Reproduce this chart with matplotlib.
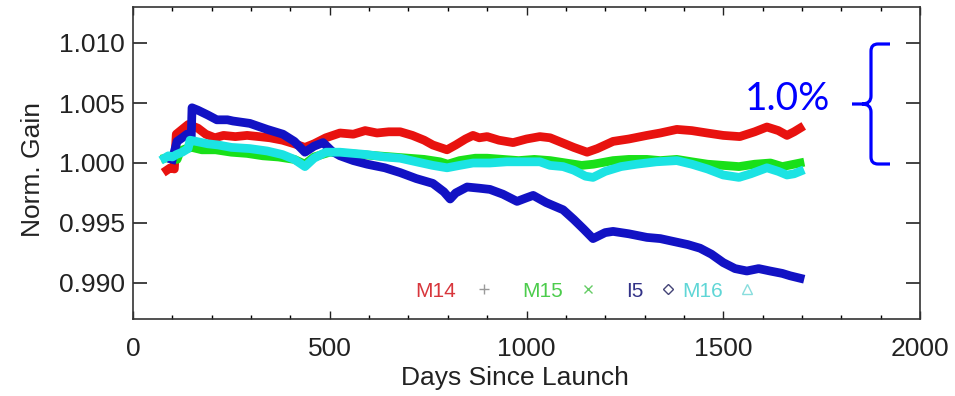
import matplotlib
matplotlib.use("Agg")
import matplotlib.pyplot as plt
from matplotlib.path import Path
from matplotlib.patches import PathPatch

# ---------------- data ----------------
m14_days = [86, 95, 105, 110, 125, 140, 150, 165, 185, 208, 230, 260, 290, 320, 348, 380, 410, 437,
            460, 490, 526, 560, 590, 620, 650, 679, 710, 740, 762, 780, 798, 820, 845, 864, 880, 900,
            930, 966, 1000, 1034, 1060, 1090, 1120, 1154, 1180, 1220, 1260, 1306, 1340, 1382, 1420,
            1459, 1500, 1542, 1580, 1611, 1640, 1662, 1680, 1695]
m14_gain = [0.9994, 0.9996, 0.9995, 1.0024, 1.0028, 1.0032, 1.0031, 1.0029, 1.0024, 1.0021, 1.0023,
            1.0022, 1.0023, 1.0022, 1.0021, 1.0019, 1.0016, 1.0013, 1.0016, 1.0021, 1.0025, 1.0024,
            1.0027, 1.0025, 1.0026, 1.0026, 1.0023, 1.0019, 1.0015, 1.0013, 1.0011, 1.0015, 1.0020,
            1.0023, 1.0021, 1.0022, 1.0019, 1.0017, 1.0020, 1.0022, 1.0021, 1.0017, 1.0013, 1.0009,
            1.0012, 1.0018, 1.0020, 1.0023, 1.0025, 1.0028, 1.0027, 1.0025, 1.0023, 1.0022, 1.0026,
            1.0030, 1.0027, 1.0023, 1.0026, 1.0029]

m15_days = [82, 95, 105, 112, 120, 135, 150, 175, 210, 250, 290, 330, 370, 410, 437, 460, 500, 540,
            580, 620, 660, 700, 740, 780, 800, 830, 870, 900, 940, 980, 1020, 1060, 1100, 1140, 1170,
            1220, 1260, 1306, 1340, 1382, 1420, 1460, 1500, 1540, 1580, 1620, 1650, 1680, 1695]
m15_gain = [1.0004, 1.0005, 1.0006, 1.0003, 1.0010, 1.0012, 1.0013, 1.0011, 1.0011, 1.0009, 1.0008,
            1.0006, 1.0005, 1.0003, 0.9999, 1.0005, 1.0009, 1.0008, 1.0007, 1.0006, 1.0005, 1.0004,
            1.0003, 1.0001, 0.9999, 1.0002, 1.0004, 1.0004, 1.0003, 1.0002, 1.0003, 1.0002, 1.0000,
            0.9998, 0.9999, 1.0002, 1.0003, 1.0003, 1.0002, 1.0003, 1.0001, 0.9999, 0.9998, 0.9997,
            0.9999, 1.0000, 0.9997, 0.9999, 1.0000]

m16_days = [80, 90, 100, 110, 125, 140, 145, 160, 190, 217, 250, 297, 341, 380, 410, 437, 460, 490,
            526, 560, 595, 640, 679, 720, 762, 798, 830, 864, 907, 950, 1000, 1034, 1060, 1093, 1120,
            1150, 1169, 1200, 1240, 1280, 1330, 1382, 1420, 1460, 1500, 1540, 1570, 1611, 1640, 1662,
            1680, 1695]
m16_gain = [1.0004, 1.0006, 1.0005, 1.0007, 1.0009, 1.0012, 1.0019, 1.0018, 1.0016, 1.0015, 1.0013,
            1.0012, 1.0010, 1.0007, 1.0003, 0.9997, 1.0004, 1.0009, 1.0009, 1.0008, 1.0007, 1.0005,
            1.0004, 1.0001, 0.9998, 0.9996, 0.9998, 1.0000, 1.0000, 1.0001, 1.0001, 1.0001, 0.9998,
            0.9997, 0.9994, 0.9989, 0.9988, 0.9993, 0.9997, 0.9999, 1.0001, 1.0002, 0.9999, 0.9995,
            0.9990, 0.9988, 0.9991, 0.9996, 0.9993, 0.9990, 0.9991, 0.9993]

i5_days = [100, 112, 125, 137, 148, 150, 165, 190, 213, 240, 254, 297, 341, 381, 410, 437, 460, 483,
           505, 526, 560, 595, 640, 679, 720, 762, 790, 806, 820, 849, 880, 907, 940, 976, 1000, 1017,
           1050, 1093, 1120, 1145, 1169, 1200, 1220, 1260, 1306, 1340, 1382, 1410, 1441, 1470, 1500,
           1530, 1560, 1590, 1619, 1650, 1670, 1695]
i5_gain = [1.0003, 1.0018, 1.0021, 1.0024, 1.0022, 1.0046, 1.0044, 1.0040, 1.0036, 1.0036, 1.0035,
           1.0033, 1.0028, 1.0024, 1.0018, 1.0009, 1.0014, 1.0017, 1.0010, 1.0006, 1.0002, 0.9999,
           0.9996, 0.9992, 0.9987, 0.9983, 0.9976, 0.9970, 0.9975, 0.9980, 0.9979, 0.9978, 0.9974,
           0.9968, 0.9971, 0.9973, 0.9967, 0.9961, 0.9953, 0.9945, 0.9937, 0.9942, 0.9943, 0.9941,
           0.9938, 0.9937, 0.9934, 0.9932, 0.9929, 0.9924, 0.9917, 0.9912, 0.9910, 0.9912, 0.9910,
           0.9908, 0.9906, 0.9904]

x_ticks = [0, 500, 1000, 1500, 2000]
y_ticks = [0.990, 0.995, 1.000, 1.005, 1.010]
y_tick_labels = ["0.990", "0.995", "1.000", "1.005", "1.010"]

legend_labels = ["M14", "M15", "I5", "M16"]
annotation_text = "1.0%"

# ---------------- figure ----------------
W, H = 955, 396
fig = plt.figure(figsize=(W / 100, H / 100), dpi=100)
plt.rcParams['font.family'] = ['Liberation Sans', 'DejaVu Sans']

ax = fig.add_axes([133 / W, 1 - 319 / H, (920 - 133) / W, (319 - 7) / H])

col_red = '#e8120f'
col_green = '#19e019'
col_cyan = '#1be3e3'
col_blue = '#1212c4'

lw = 6.3
ax.plot(m14_days, m14_gain, color=col_red, lw=lw, solid_joinstyle='round', zorder=2)
ax.plot(m15_days, m15_gain, color=col_green, lw=lw, solid_joinstyle='round', zorder=3)
ax.plot(i5_days, i5_gain, color=col_blue, lw=lw, solid_joinstyle='round', zorder=4)
ax.plot(m16_days, m16_gain, color=col_cyan, lw=lw, solid_joinstyle='round', zorder=5)

ax.set_xlim(0, 2000)
ax.set_ylim(0.987, 1.013)
ax.set_xticks(x_ticks)
ax.set_xticks(range(0, 2001, 100), minor=True)
ax.set_yticks(y_ticks)
ax.set_yticklabels(y_tick_labels)

txt_col = '#222222'
ax.tick_params(axis='x', which='major', direction='in', length=6, width=1.0, top=True,
               labelsize=19, pad=13, colors=txt_col)
ax.tick_params(axis='x', which='minor', direction='in', length=3, width=1.0, top=True)
ax.tick_params(axis='y', which='major', direction='in', length=10, width=1.2, right=True,
               labelsize=19, pad=6, colors=txt_col)
for s in ax.spines.values():
    s.set_linewidth(1.2)
    s.set_color('#333333')

ax.set_xlabel("Days Since Launch", fontsize=19, color=txt_col)
ax.xaxis.set_label_coords(0.485, -0.15)
ax.set_ylabel("Norm. Gain", fontsize=19, color=txt_col)
ax.yaxis.set_label_coords(-0.112, 0.48)

# in-plot legend (IDL style)
leg_cols = ['#d8363c', '#4ccc4c', '#333388', '#5fd6d6']
leg_x = [0.385, 0.520, 0.637, 0.724]
for lab, c, xx in zip(legend_labels, leg_cols, leg_x):
    ax.text(xx, 0.072, lab, transform=ax.transAxes, ha='center', va='baseline',
            fontsize=15, color=c)
ax.plot([0.446], [0.095], transform=ax.transAxes, marker='+', ms=7, mew=1.0, color='#9a9a9a', ls='none')
ax.plot([0.578], [0.095], transform=ax.transAxes, marker='x', ms=6, mew=1.0, color='#66cc66', ls='none')
ax.plot([0.680], [0.095], transform=ax.transAxes, marker='D', ms=5, mew=1.0, mfc='none',
        mec='#444477', ls='none')
ax.plot([0.780], [0.095], transform=ax.transAxes, marker='^', ms=7, mew=1.0, mfc='none',
        mec='#88dddd', ls='none')

# brace annotation
def P(x, y):
    return (x / W, 1 - y / H)

verts = [P(890, 44), P(878, 44), P(871, 44), P(871, 51), P(871, 96), P(871, 104), P(862, 104),
         P(852, 104),
         P(862, 104), P(871, 104), P(871, 112), P(871, 157), P(871, 164), P(878, 164), P(890, 164)]
codes = [Path.MOVETO, Path.LINETO, Path.CURVE3, Path.CURVE3, Path.LINETO, Path.CURVE3, Path.CURVE3,
         Path.LINETO,
         Path.MOVETO, Path.CURVE3, Path.CURVE3, Path.LINETO, Path.CURVE3, Path.CURVE3, Path.LINETO]
brace = PathPatch(Path(verts, codes), transform=fig.transFigure, fill=False,
                  edgecolor='#0000ff', lw=2.3, capstyle='butt', joinstyle='round')
fig.patches.append(brace)
fig.text(745 / W, 1 - 110 / H, annotation_text, ha='left', va='baseline', fontsize=28,
         color='#0000ff', family=['Lato', 'DejaVu Sans'])

fig.savefig("out.png", dpi=100)
